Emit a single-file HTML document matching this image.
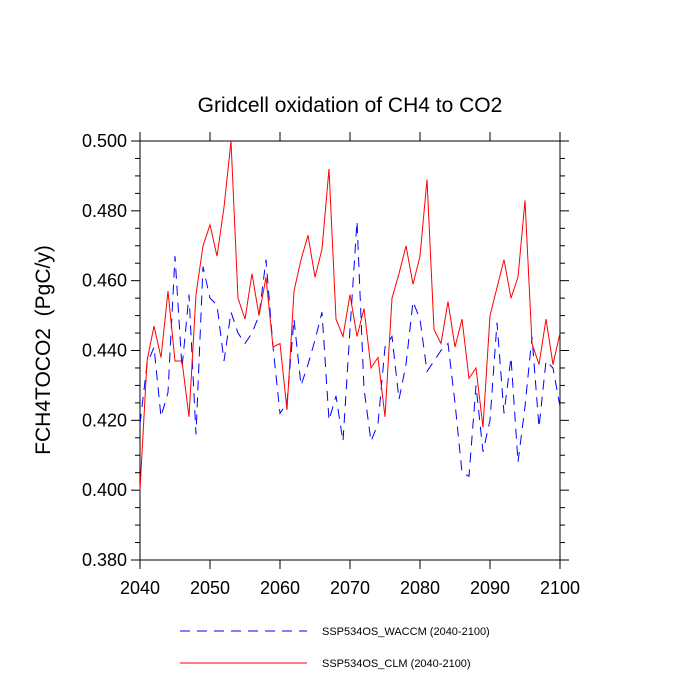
<!DOCTYPE html>
<html><head><meta charset="utf-8"><style>
html,body{margin:0;padding:0;background:#fff;}
svg{display:block;font-family:"Liberation Sans",sans-serif;}
</style></head><body>
<svg id="chart" width="700" height="700" xmlns="http://www.w3.org/2000/svg">
<text x="350" y="112" font-size="21" text-anchor="middle">Gridcell oxidation of CH4 to CO2</text>
<text transform="translate(50,350) rotate(-90)" font-size="21" text-anchor="middle">FCH4TOCO2&#160; (PgC/y)</text>
<g id="axes"></g>
<g id="series"></g>
<g>
<line x1="180" y1="631" x2="307" y2="631" stroke="#0000ff" stroke-width="1" stroke-dasharray="10,7"/>
<text x="322" y="635" font-size="11">SSP534OS_WACCM (2040-2100)</text>
<line x1="180" y1="663" x2="307" y2="663" stroke="#ff0000" stroke-width="1"/>
<text x="322" y="667" font-size="11">SSP534OS_CLM (2040-2100)</text>
</g>
</svg>
<script>
const years = [];
for (let y = 2040; y <= 2100; y++) years.push(y);
const clm = [0.400,0.437,0.447,0.438,0.457,0.437,0.437,0.421,0.456,0.470,0.476,0.467,0.481,0.500,0.455,0.449,0.462,0.450,0.461,0.441,0.442,0.423,0.457,0.466,0.473,0.461,0.469,0.492,0.449,0.444,0.456,0.444,0.452,0.435,0.438,0.421,0.455,0.462,0.470,0.459,0.467,0.489,0.446,0.442,0.454,0.441,0.449,0.432,0.435,0.418,0.450,0.458,0.466,0.455,0.461,0.483,0.442,0.436,0.449,0.436,0.445];
const waccm = [0.419,0.436,0.441,0.421,0.428,0.467,0.435,0.456,0.416,0.464,0.455,0.453,0.437,0.451,0.445,0.442,0.445,0.450,0.466,0.441,0.422,0.425,0.449,0.430,0.436,0.443,0.451,0.420,0.427,0.414,0.446,0.477,0.429,0.414,0.419,0.441,0.444,0.426,0.436,0.454,0.449,0.434,0.437,0.440,0.442,0.425,0.405,0.404,0.430,0.411,0.420,0.448,0.422,0.438,0.408,0.424,0.444,0.418,0.437,0.435,0.424];
const xTicks = [2040,2050,2060,2070,2080,2090,2100];
const yTicks = [0.380,0.400,0.420,0.440,0.460,0.480,0.500];
const X0=140,X1=560,Y0=560,Y1=141;
const sx = v => X0 + (v-2040)/60*(X1-X0);
const sy = v => Y0 - (v-0.38)/0.12*(Y0-Y1);
const NS="http://www.w3.org/2000/svg";
const axes=document.getElementById('axes'), ser=document.getElementById('series');
function mk(tag,attrs,parent){const e=document.createElementNS(NS,tag);for(const k in attrs)e.setAttribute(k,attrs[k]);parent.appendChild(e);return e;}
const frame=mk('rect',{x:X0,y:Y1,width:X1-X0,height:Y0-Y1,fill:'none',stroke:'#000','stroke-width':1},axes);


const tc='#000';
xTicks.forEach(t=>{
  const x=sx(t);
  mk('line',{x1:x,y1:Y0,x2:x,y2:Y0+9,stroke:tc},axes);
  mk('line',{x1:x,y1:Y1,x2:x,y2:Y1-9,stroke:tc},axes);
  const l=mk('text',{x:x,y:Y0+34,'font-size':18,'text-anchor':'middle'},axes);
  l.textContent=t;
  
  
});
for(let v=0.380;v<=0.5001;v+=0.005){
  const y=sy(v); const major=Math.abs(Math.round(v*1000)%20)<0.5;
  const len=major?9:5;
  mk('line',{x1:X0,y1:y,x2:X0-len,y2:y,stroke:tc},axes);
  mk('line',{x1:X1,y1:y,x2:X1+len,y2:y,stroke:tc},axes);
}
yTicks.forEach(t=>{
  const l=mk('text',{x:X0-13,y:sy(t)+6,'font-size':18,'text-anchor':'end'},axes);
  l.textContent=t.toFixed(3);
  
  
});
function line(data,color,dash,name){
  const d=data.map((v,i)=>(i?'L':'M')+sx(years[i]).toFixed(1)+','+sy(v).toFixed(1)).join('');
  const p=mk('path',{d:d,fill:'none',stroke:color,'stroke-width':1},ser);
  if(dash)p.setAttribute('stroke-dasharray',dash);
  
  
}
line(waccm,'#0000ff','10,7','waccm-line');
line(clm,'#ff0000',null,'clm-line');
</script>
</body></html>
